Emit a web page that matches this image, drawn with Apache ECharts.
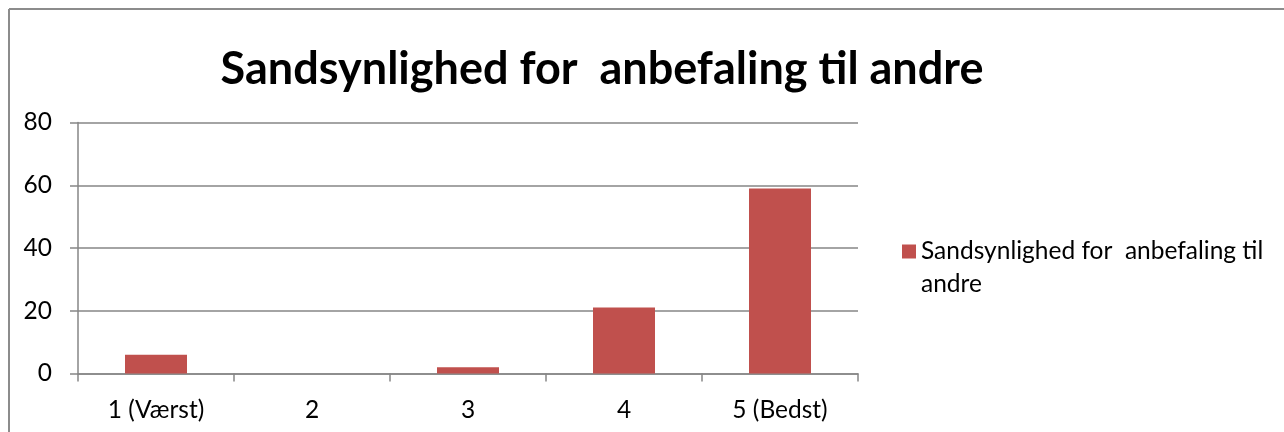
<!DOCTYPE html>
<html>
<head>
<meta charset="utf-8">
<script src="https://cdn.jsdelivr.net/npm/echarts@6/dist/echarts.min.js"></script>
<style>html,body{margin:0;padding:0;background:#fff}#c{width:1284px;height:432px}</style>
</head>
<body>
<div id="c"></div>
<script>
const titleText = 'Sandsynlighed for  anbefaling til andre';
const seriesName = 'Sandsynlighed for  anbefaling til andre';
const legendLines = ['Sandsynlighed for  anbefaling til', 'andre'];
const categories = ['1 (Værst)', '2', '3', '4', '5 (Bedst)'];
const values = [6, 0, 2, 21, 59];
const yTicks = { min: 0, max: 80, interval: 20 };

const chart = echarts.init(document.getElementById('c'), null, { renderer: 'canvas' });
const FONT = 'Lato, "Open Sans", sans-serif';
const GRAY = '#868686';
chart.setOption({
  animation: false,
  backgroundColor: '#ffffff',
  title: {
    text: titleText,
    left: 597,
    top: 42,
    textAlign: 'center',
    textStyle: { fontFamily: FONT, fontWeight: 'bold', fontSize: 45, color: '#000' }
  },
  legend: {
    left: 897,
    top: 197,
    orient: 'vertical',
    itemWidth: 14,
    itemHeight: 14,
    icon: 'rect',
    formatter: function () { return ' \n' + legendLines.join('\n'); },
    textStyle: { fontFamily: FONT, fontSize: 24.5, color: '#000', lineHeight: 33 }
  },
  grid: { left: 78, right: 426, top: 122.5, bottom: 58.5, containLabel: false },
  xAxis: {
    type: 'category',
    data: categories,
    axisLine: { lineStyle: { color: GRAY, width: 1.5 } },
    axisTick: { show: true, length: 8, alignWithLabel: false, lineStyle: { color: GRAY, width: 1.5 } },
    axisLabel: { margin: 24, fontFamily: FONT, fontSize: 24.5, color: '#000' },
    splitLine: { show: false }
  },
  yAxis: {
    type: 'value',
    min: yTicks.min, max: yTicks.max, interval: yTicks.interval,
    axisLine: { show: true, lineStyle: { color: GRAY, width: 1.5 } },
    axisTick: { show: true, length: 8, lineStyle: { color: GRAY, width: 1.5 } },
    axisLabel: { margin: 26, fontFamily: FONT, fontSize: 24.5, color: '#000' },
    splitLine: { show: true, lineStyle: { color: GRAY, width: 1.5 } }
  },
  series: [{
    name: seriesName,
    type: 'bar',
    data: values,
    barWidth: 62,
    itemStyle: { color: '#C0504D' }
  }],
  graphic: [
    { type: 'line', shape: { x1: 9, y1: 9, x2: 1284, y2: 9 }, style: { stroke: '#8c8c8c', lineWidth: 2 }, silent: true },
    { type: 'line', shape: { x1: 9, y1: 9, x2: 9, y2: 432 }, style: { stroke: '#8c8c8c', lineWidth: 2 }, silent: true }
  ]
});
</script>
</body>
</html>
